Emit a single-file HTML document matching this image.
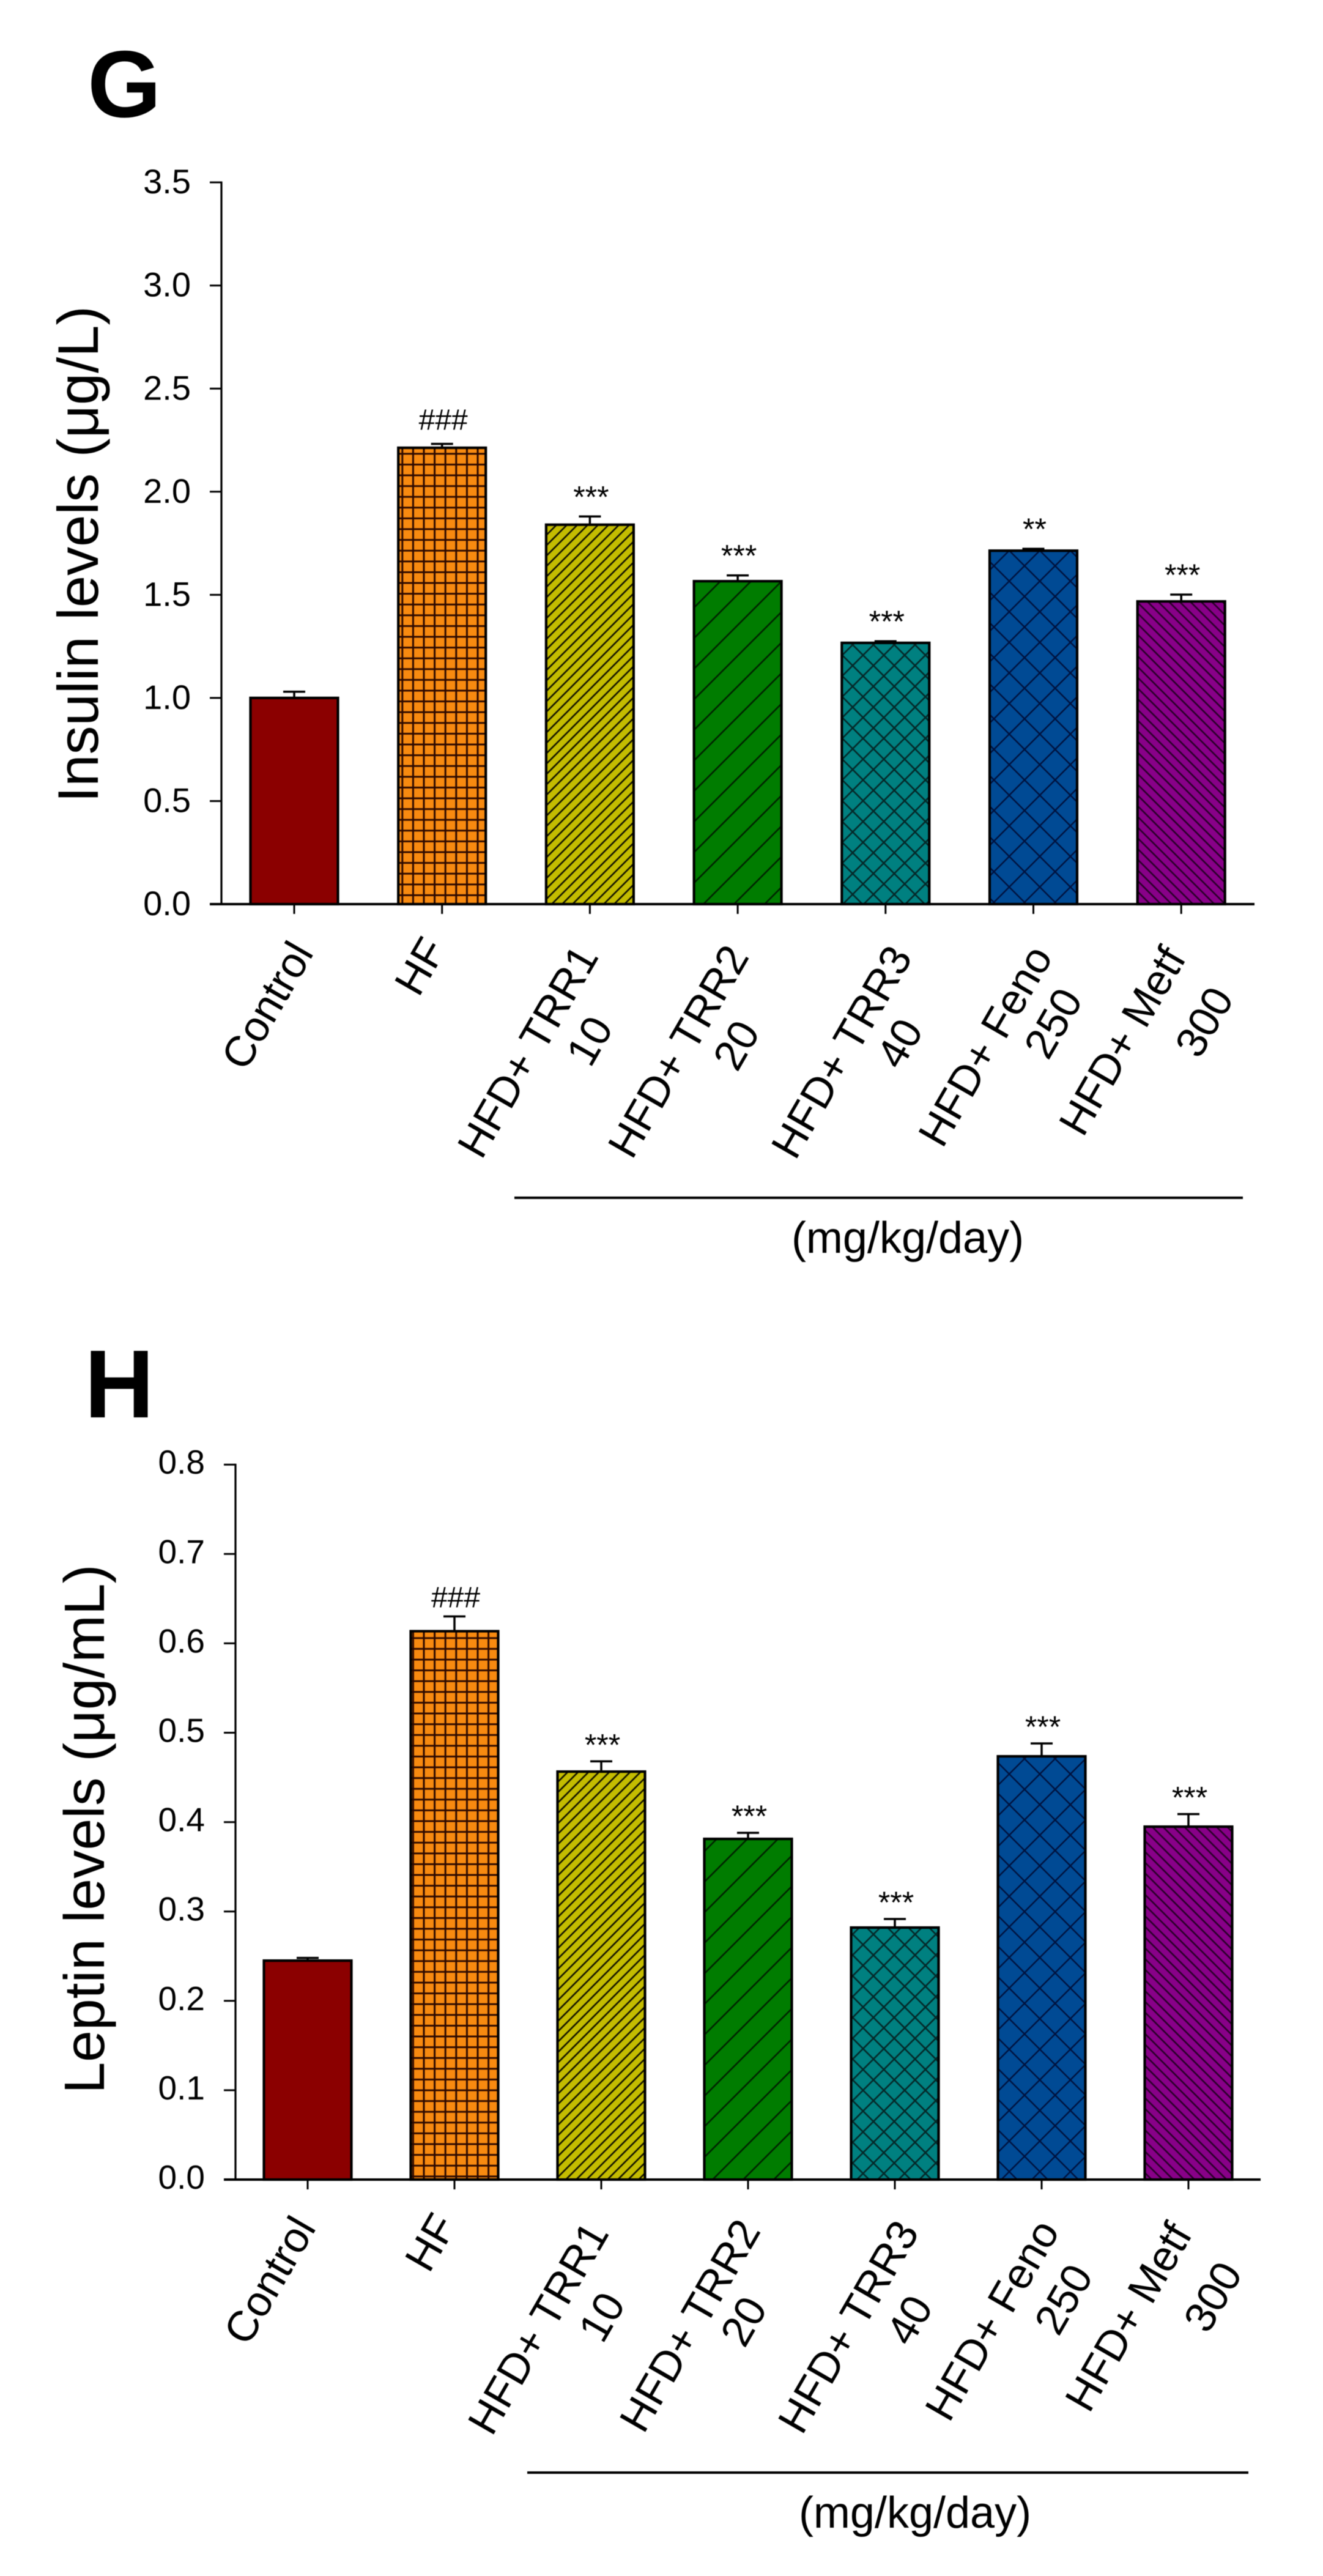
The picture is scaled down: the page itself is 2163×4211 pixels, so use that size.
<!DOCTYPE html>
<html lang="en">
<head>
<meta charset="utf-8">
<title>Insulin and leptin levels</title>
<style>
html,body{margin:0;padding:0;background:#fff;}
svg{display:block;filter:blur(0.5px);}
text{font-family:"Liberation Sans",Arial,sans-serif;fill:#000;}
.xl{font-size:70px;text-anchor:middle;}
.unit{font-size:72px;text-anchor:middle;}
</style>
</head>
<body>
<svg id="figure" xmlns="http://www.w3.org/2000/svg" width="2163" height="4211" viewBox="0 0 2163 4211">
<defs>
  <pattern id="p-grid" patternUnits="userSpaceOnUse" width="17.6" height="17.6" patternTransform="translate(649 733)">
    <rect width="17.6" height="17.6" fill="#f88a10"/>
    <path d="M8.8 0V17.6M0 8.8H17.6" stroke="#2e0a00" stroke-width="3"/>
  </pattern>
  <pattern id="p-dense-fwd" patternUnits="userSpaceOnUse" width="17" height="17">
    <rect width="17" height="17" fill="#c4bc00"/>
    <path d="M-2 2L2 -2M0 17L17 0M15 19L19 15" stroke="#141400" stroke-width="2.6"/>
  </pattern>
  <pattern id="p-sparse-fwd" patternUnits="userSpaceOnUse" width="50" height="50" patternTransform="translate(28 0)">
    <rect width="50" height="50" fill="#007c00"/>
    <path d="M-2 2L2 -2M0 50L50 0M48 52L52 48" stroke="#002400" stroke-width="2.6"/>
  </pattern>
  <pattern id="p-cross-small" patternUnits="userSpaceOnUse" width="34" height="34">
    <rect width="34" height="34" fill="#008080"/>
    <path d="M-2 2L2 -2M0 34L34 0M32 36L36 32M-2 32L2 36M0 0L34 34M32 -2L36 2" stroke="#042a2a" stroke-width="2.6"/>
  </pattern>
  <pattern id="p-cross-large" patternUnits="userSpaceOnUse" width="50" height="50">
    <rect width="50" height="50" fill="#004a94"/>
    <path d="M-2 2L2 -2M0 50L50 0M48 52L52 48M-2 48L2 52M0 0L50 50M48 -2L52 2" stroke="#00123f" stroke-width="2.4"/>
  </pattern>
  <pattern id="p-dense-back" patternUnits="userSpaceOnUse" width="17.5" height="17.5">
    <rect width="17.5" height="17.5" fill="#880088"/>
    <path d="M-2 15.5L2 19.5M0 0L17.5 17.5M15.5 -2L19.5 2" stroke="#2a002a" stroke-width="2.6"/>
  </pattern>
</defs>

<g id="chart-g"></g>
<g id="chart-h"></g>

<text x="143" y="191" font-size="155" font-weight="700">G</text>
<text x="138" y="2317" font-size="158" font-weight="700">H</text>

<text font-size="94" text-anchor="middle" transform="translate(160 906) rotate(-90)">Insulin levels (μg/L)</text>
<text font-size="93" text-anchor="middle" transform="translate(170 2990) rotate(-90)">Leptin levels (μg/mL)</text>

<g>
  <text class="xl" transform="translate(436 1643) rotate(-60)" dy="25">Control</text>
  <text class="xl" transform="translate(686 1579) rotate(-60)" dy="25">HF</text>
  <text class="xl" transform="translate(862 1718) rotate(-60)" dy="25">HFD+ TRR1</text>
  <text class="xl" transform="translate(963 1701) rotate(-60)" dy="25">10</text>
  <text class="xl" transform="translate(1108 1718) rotate(-60)" dy="25">HFD+ TRR2</text>
  <text class="xl" transform="translate(1203 1708) rotate(-60)" dy="25">20</text>
  <text class="xl" transform="translate(1375 1719) rotate(-60)" dy="25">HFD+ TRR3</text>
  <text class="xl" transform="translate(1470 1705) rotate(-60)" dy="25">40</text>
  <text class="xl" transform="translate(1610 1709) rotate(-60)" dy="25">HFD+ Feno</text>
  <text class="xl" transform="translate(1721 1672) rotate(-60)" dy="25">250</text>
  <text class="xl" transform="translate(1834 1701) rotate(-60)" dy="25">HFD+ Metf</text>
  <text class="xl" transform="translate(1968 1670) rotate(-60)" dy="25">300</text>
</g>
<rect x="841" y="1956" width="1191" height="4" fill="#000"/>
<text class="unit" x="1484" y="2048">(mg/kg/day)</text>

<g>
  <text class="xl" transform="translate(440 3727) rotate(-60)" dy="25">Control</text>
  <text class="xl" transform="translate(703 3665) rotate(-60)" dy="25">HF</text>
  <text class="xl" transform="translate(879 3805) rotate(-60)" dy="25">HFD+ TRR1</text>
  <text class="xl" transform="translate(983 3787) rotate(-60)" dy="25">10</text>
  <text class="xl" transform="translate(1127 3801) rotate(-60)" dy="25">HFD+ TRR2</text>
  <text class="xl" transform="translate(1215 3794) rotate(-60)" dy="25">20</text>
  <text class="xl" transform="translate(1386 3803) rotate(-60)" dy="25">HFD+ TRR3</text>
  <text class="xl" transform="translate(1486 3792) rotate(-60)" dy="25">40</text>
  <text class="xl" transform="translate(1621 3792) rotate(-60)" dy="25">HFD+ Feno</text>
  <text class="xl" transform="translate(1738 3758) rotate(-60)" dy="25">250</text>
  <text class="xl" transform="translate(1844 3787) rotate(-60)" dy="25">HFD+ Metf</text>
  <text class="xl" transform="translate(1982 3754) rotate(-60)" dy="25">300</text>
</g>
<rect x="862" y="4040" width="1179" height="4" fill="#000"/>
<text class="unit" x="1496" y="4132">(mg/kg/day)</text>
</svg>

<script>
const categories = ['Control', 'HF', 'TRR1', 'TRR2', 'TRR3', 'Feno', 'Metf'];
const barFills = ['#8b0000', 'url(#p-grid)', 'url(#p-dense-fwd)', 'url(#p-sparse-fwd)', 'url(#p-cross-small)', 'url(#p-cross-large)', 'url(#p-dense-back)'];

const insulinMeans = [1.00, 2.213, 1.84, 1.566, 1.267, 1.714, 1.468];
const insulinErrors = [0.03, 0.019, 0.04, 0.028, 0.008, 0.009, 0.033];
const insulinSignificance = ['', '###', '***', '***', '***', '**', '***'];
const insulinTicks = [0, 0.5, 1.0, 1.5, 2.0, 2.5, 3.0, 3.5];
const insulinTickLabels = ['0.0', '0.5', '1.0', '1.5', '2.0', '2.5', '3.0', '3.5'];

const leptinMeans = [0.245, 0.6136, 0.4565, 0.3812, 0.282, 0.4736, 0.3949];
const leptinErrors = [0.003, 0.0165, 0.0115, 0.0068, 0.0096, 0.0144, 0.0141];
const leptinSignificance = ['', '###', '***', '***', '***', '***', '***'];
const leptinTicks = [0, 0.1, 0.2, 0.3, 0.4, 0.5, 0.6, 0.7, 0.8];
const leptinTickLabels = ['0.0', '0.1', '0.2', '0.3', '0.4', '0.5', '0.6', '0.7', '0.8'];

const SVG_NS = 'http://www.w3.org/2000/svg';

function make(tag, attrs, parent) {
  const el = document.createElementNS(SVG_NS, tag);
  for (const k in attrs) el.setAttribute(k, attrs[k]);
  parent.appendChild(el);
  return el;
}

function linearY(zeroPx, pxPerUnit) {
  return function (v) { return zeroPx - v * pxPerUnit; };
}

function bandX(firstCenter, step) {
  return function (i) { return firstCenter + i * step; };
}

function drawChart(rootId, means, errors, significance, ticks, tickLabels, geom) {
  const root = document.getElementById(rootId);
  const Y = linearY(geom.zeroPx, geom.pxPerUnit);
  const X = bandX(geom.firstCenter, geom.step);
  const halfBar = 71.5;

  means.forEach(function (m, i) {
    const cx = X(i);
    const top = Y(m);
    const capY = Y(m + errors[i]);

    const stem = make('line', { x1: cx, x2: cx, y1: top, y2: capY, stroke: '#000', 'stroke-width': 3.5 }, root);
    
    

    const cap = make('line', { x1: cx - 18, x2: cx + 18, y1: capY, y2: capY, stroke: '#000', 'stroke-width': 3.5 }, root);
    
    

    const bar = make('rect', { x: cx - halfBar, y: top, width: halfBar * 2, height: geom.zeroPx - top, fill: barFills[i], stroke: '#000', 'stroke-width': 4.2 }, root);
    
    

    if (significance[i]) {
      const isHash = significance[i].charAt(0) === '#';
      const sig = make('text', { x: cx + 2, y: capY - (isHash ? geom.hashGap : geom.starGap), 'text-anchor': 'middle', 'font-size': isHash ? 48 : 50 }, root);
      sig.textContent = significance[i];
      
      
    }

    const xTick = make('line', { x1: cx, x2: cx, y1: geom.zeroPx, y2: geom.zeroPx + 16, stroke: '#000', 'stroke-width': 3 }, root);
    
    
  });

  const yAxis = make('line', { x1: geom.axisX, x2: geom.axisX, y1: Y(ticks[ticks.length - 1]) - 1.5, y2: geom.zeroPx, stroke: '#000', 'stroke-width': 3.2 }, root);
  
  

  const xAxis = make('line', { x1: geom.axisX - 19, x2: geom.xEnd, y1: geom.zeroPx, y2: geom.zeroPx, stroke: '#000', 'stroke-width': 4 }, root);
  
  

  ticks.forEach(function (t, i) {
    const ty = Y(t);
    const tick = make('line', { x1: geom.axisX - 19, x2: geom.axisX, y1: ty, y2: ty, stroke: '#000', 'stroke-width': 3 }, root);
    
    

    const label = make('text', { x: geom.axisX - 50, y: ty + geom.labelDy, 'text-anchor': 'end', 'font-size': geom.labelSize }, root);
    label.textContent = tickLabels[i];
    
    
  });
}

drawChart('chart-g', insulinMeans, insulinErrors, insulinSignificance, insulinTicks, insulinTickLabels,
  { zeroPx: 1478, pxPerUnit: 337.1, firstCenter: 481, step: 241.7, axisX: 362, xEnd: 2051, labelDy: 18, labelSize: 56, starGap: 15, hashGap: 23 });
drawChart('chart-h', leptinMeans, leptinErrors, leptinSignificance, leptinTicks, leptinTickLabels,
  { zeroPx: 3563, pxPerUnit: 1461, firstCenter: 503, step: 240, axisX: 385, xEnd: 2061, labelDy: 15, labelSize: 55, starGap: 10, hashGap: 15 });
</script>
</body>
</html>
